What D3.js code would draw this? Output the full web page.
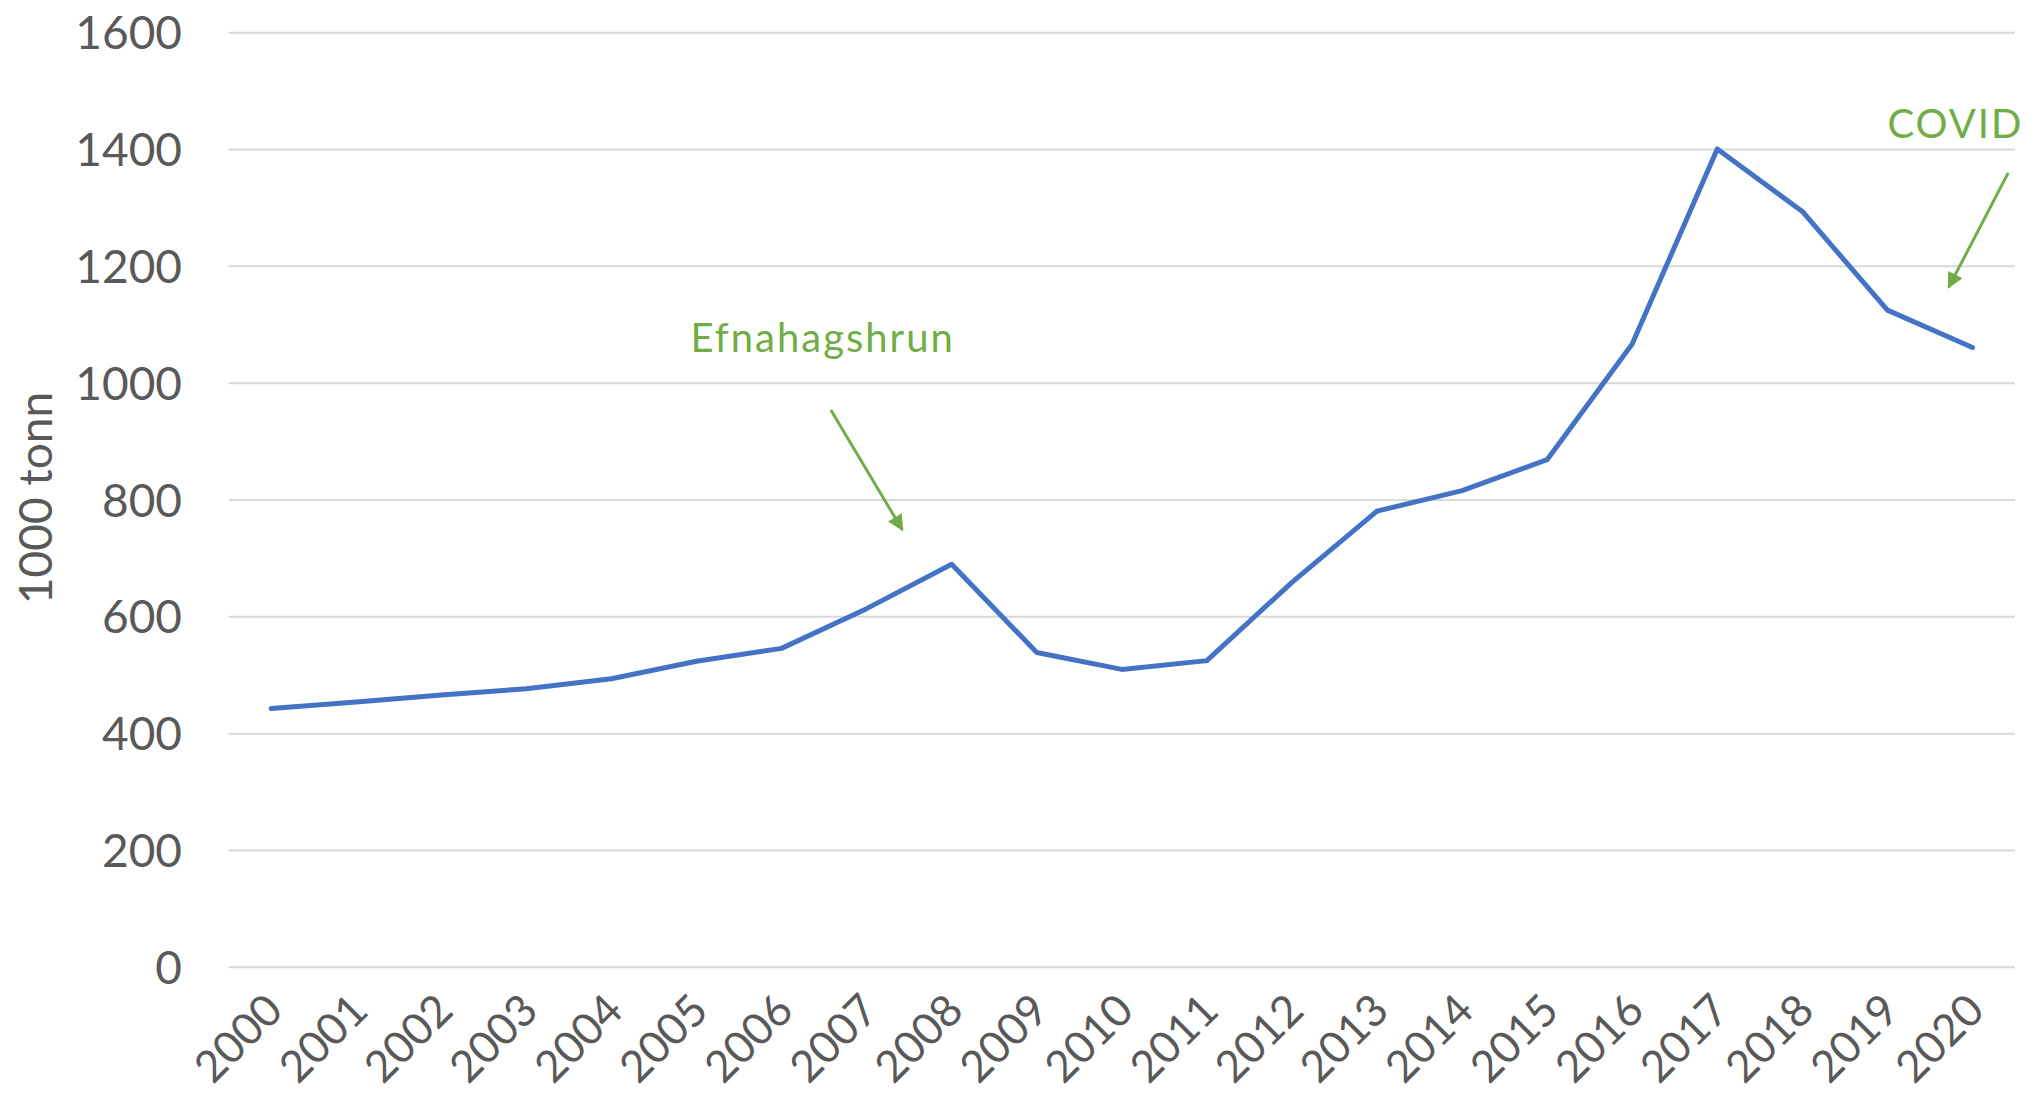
<!DOCTYPE html>
<html>
<head>
<meta charset="utf-8">
<script src="https://cdn.jsdelivr.net/npm/d3@7"></script>
<style>
  body { margin: 0; background: #fff; }
  svg text { font-family: "Avenir Next", Lato, "Noto Sans", sans-serif; }
</style>
</head>
<body>
<svg id="chart" width="2025" height="1097"></svg>
<script>
// data
var years = ['2000','2001','2002','2003','2004','2005','2006','2007','2008','2009','2010',
  '2011','2012','2013','2014','2015','2016','2017','2018','2019','2020'];
var values = [443, 454, 466, 477, 494, 524, 546, 614, 690, 539, 510,
  525, 659, 781, 816, 869, 1067, 1401, 1294, 1125, 1061];
var y_ticks = [0, 200, 400, 600, 800, 1000, 1200, 1400, 1600];
var y_title = '1000 tonn';

// annotations, in data space (x = year index, y = value)
var notes = [
  { label: 'Efnahagshrun', tx: 4.93, ty: 1054, x1: 6.58, y1: 954, x2: 7.42, y2: 749 },
  { label: 'COVID', tx: 19.0, ty: 1420, x1: 20.42, y1: 1360, x2: 19.72, y2: 1164 }
];

var svg = d3.select('#chart');
var text_color = '#595959';
var green = '#70AD47';

var x = d3.scaleBand().domain(years).range([228.6, 2015]);
var y = d3.scaleLinear().domain([0, 1600]).range([967.3, 32.7]);
var cx = function(d) { return x(d) + x.bandwidth() / 2; };
// index scale for placing annotations between categories
var xi = d3.scaleLinear().domain([0, years.length - 1]).range([cx(years[0]), cx(years[years.length - 1])]);

// gridlines
svg.append('g')
  .selectAll('line')
  .data(y_ticks)
  .enter()
  .append('line')
  .attr('x1', x.range()[0])
  .attr('x2', x.range()[1])
  .attr('y1', function(d) { return y(d); })
  .attr('y2', function(d) { return y(d); })
  .style('stroke', '#D9D9D9')
  .style('stroke-width', 2);

// y tick labels
svg.append('g')
  .selectAll('text')
  .data(y_ticks)
  .enter()
  .append('text')
  .attr('x', 182)
  .attr('y', function(d) { return y(d); })
  .attr('dy', '0.36em')
  .attr('text-anchor', 'end')
  .style('font-size', '46px')
  .style('fill', text_color)
  .text(function(d) { return d; });

// y title
svg.append('text')
  .attr('transform', 'translate(35,498) rotate(-90)')
  .attr('dy', '0.36em')
  .attr('text-anchor', 'middle')
  .style('font-size', '46px')
  .style('fill', text_color)
  .text(y_title);

// x labels, rotated
svg.append('g')
  .selectAll('text')
  .data(years)
  .enter()
  .append('text')
  .attr('transform', function(d) {
    return 'translate(' + (cx(d) + 14) + ',1013) rotate(-45)';
  })
  .attr('text-anchor', 'end')
  .style('font-size', '44px')
  .style('fill', text_color)
  .text(function(d) { return d; });

// the line
var line = d3.line()
  .x(function(d, i) { return cx(years[i]); })
  .y(function(d) { return y(d); });

svg.append('path')
  .datum(values)
  .attr('d', line)
  .style('fill', 'none')
  .style('stroke', '#4472C4')
  .style('stroke-width', 5)
  .style('stroke-linejoin', 'round')
  .style('stroke-linecap', 'round');

// arrow marker
svg.append('defs')
  .append('marker')
  .attr('id', 'arrow')
  .attr('viewBox', '0 0 10 10')
  .attr('refX', 9)
  .attr('refY', 5)
  .attr('markerUnits', 'userSpaceOnUse')
  .attr('markerWidth', 18)
  .attr('markerHeight', 16)
  .attr('orient', 'auto')
  .append('path')
  .attr('d', 'M0,0 L10,5 L0,10 Z')
  .style('fill', green);

var note = svg.append('g')
  .selectAll('g')
  .data(notes)
  .enter()
  .append('g');

note.append('text')
  .attr('x', function(d) { return xi(d.tx); })
  .attr('y', function(d) { return y(d.ty); })
  .style('font-size', '40px')
  .style('letter-spacing', '2px')
  .style('fill', green)
  .text(function(d) { return d.label; });

note.append('line')
  .attr('x1', function(d) { return xi(d.x1); })
  .attr('y1', function(d) { return y(d.y1); })
  .attr('x2', function(d) { return xi(d.x2); })
  .attr('y2', function(d) { return y(d.y2); })
  .style('stroke', green)
  .style('stroke-width', 3)
  .attr('marker-end', 'url(#arrow)');
</script>
</body>
</html>
